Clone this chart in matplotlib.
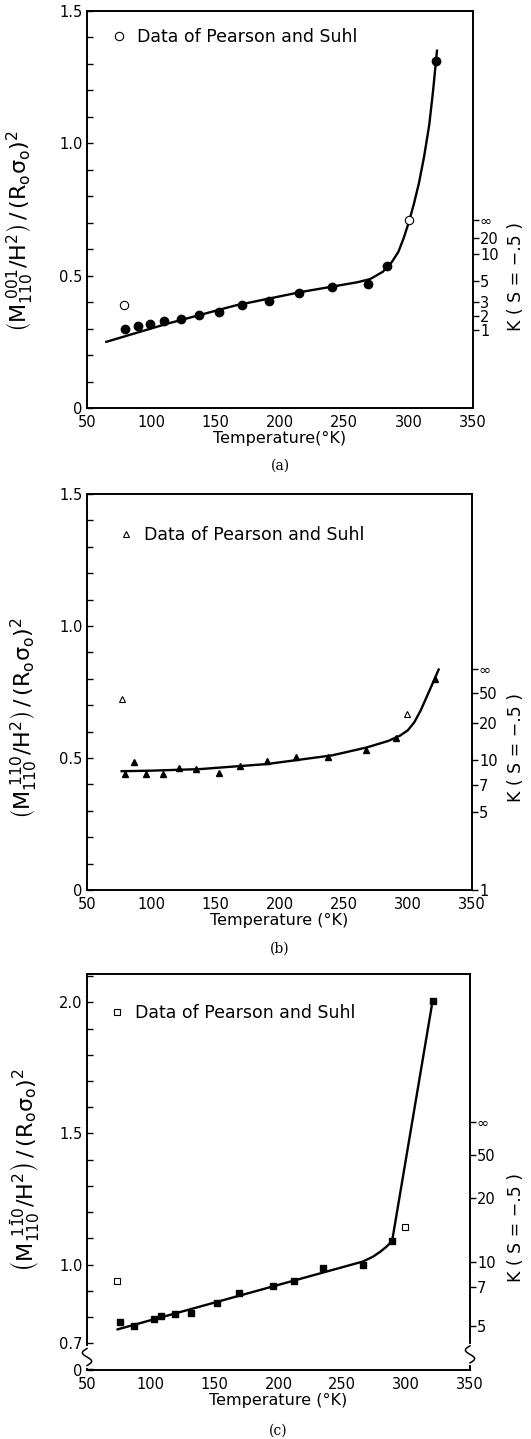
import matplotlib.pyplot as plt
import numpy as np

plt.rcParams['font.family'] = ['DejaVu Sans']
plt.rcParams['mathtext.fontset'] = 'dejavusans'
plt.rcParams['mathtext.default'] = 'regular'

# panel (a): M110 001
temp_a = [79.6, 89.4, 99, 110, 123, 136.9, 152.4, 170.3, 191.3, 214.6, 240.3, 268.3, 283, 321.4]
val_a = [0.299, 0.308, 0.318, 0.327, 0.337, 0.353, 0.362, 0.39, 0.406, 0.434, 0.457, 0.469, 0.536, 1.311]
ps_temp_a = [78.5, 300]
ps_val_a = [0.391, 0.711]
curve_temp_a = [65, 112, 165, 216, 260, 270, 280, 287, 292, 296, 300, 304, 308, 312, 316, 319, 322]
curve_val_a = [0.25, 0.318, 0.387, 0.438, 0.475, 0.487, 0.515, 0.552, 0.59, 0.64, 0.70, 0.77, 0.85, 0.95, 1.07, 1.2, 1.35]
k_pos_a = [0.295, 0.347, 0.400, 0.480, 0.582, 0.642, 0.710]
k_lab_a = ['1', '2', '3', '5', '10', '20', '∞']

# panel (b): M110 110
temp_b = [79.4, 87, 96, 109, 122, 135, 152.6, 169.5, 190, 213, 238, 267.7, 290.5, 321]
val_b = [0.44, 0.484, 0.44, 0.44, 0.463, 0.458, 0.445, 0.469, 0.49, 0.503, 0.503, 0.53, 0.575, 0.80]
ps_temp_b = [77, 299]
ps_val_b = [0.722, 0.667]
curve_temp_b = [77, 100, 138, 190, 241, 268, 285, 294, 300, 305, 310, 315, 320, 324]
curve_val_b = [0.45, 0.452, 0.458, 0.477, 0.51, 0.54, 0.565, 0.585, 0.605, 0.635, 0.68, 0.735, 0.79, 0.835]
k_pos_b = [0.0, 0.297, 0.398, 0.492, 0.631, 0.748, 0.837]
k_lab_b = ['1', '5', '7', '10', '20', '50', '∞']

# panel (c): M110 1-10
temp_c = [76.1, 86.8, 102.3, 108.3, 118.7, 131.8, 151.9, 169.2, 195.8, 212, 234.5, 266.4, 289.1, 321.2]
val_c = [0.782, 0.766, 0.791, 0.804, 0.812, 0.817, 0.855, 0.893, 0.919, 0.938, 0.986, 0.997, 1.088, 2.006]
ps_temp_c = [73.5, 299]
ps_val_c = [0.939, 1.142]
curve_temp_c = [74, 266, 274, 280, 285, 289, 320]
curve_val_c = [0.753, 1.0115, 1.03, 1.05, 1.07, 1.09, 1.985]
k_pos_c = [0.766, 0.916, 1.009, 1.253, 1.419, 1.542]
k_lab_c = ['5', '7', '10', '20', '50', '∞']

W, H = 531., 1439.


def rect(left, right, top, bottom):
    return [left / W, 1 - bottom / H, (right - left) / W, (bottom - top) / H]


def squiggle(ax, xpos, y0, y1):
    # axis break mark drawn over the spine
    tr = ax.get_yaxis_transform()
    ys = np.linspace(y0, y1, 40)
    xs = xpos + 0.012 * np.sin(np.linspace(0, 2 * np.pi, 40))
    ax.plot([xpos, xpos], [y0, y1], color='white', lw=3, transform=tr,
            clip_on=False, zorder=5)
    ax.plot(xs, ys, color='black', lw=1.1, transform=tr, clip_on=False, zorder=6)


def panel(fig, r, temps, vals, marker, ps_t, ps_v, ct, cv, ylim, yticks, ylabels,
          kpos, klab, ylabel, ylab_pos, klab_y, leg_xy, xlabel, letter, letter_y, msize):
    ax = fig.add_axes(r)
    ax.plot(ct, cv, color='black', lw=1.7, zorder=3)
    ax.plot(temps, vals, linestyle='none', marker=marker, color='black',
            markersize=msize, zorder=4)
    ax.plot(ps_t, ps_v, linestyle='none', marker=marker, markerfacecolor='white',
            markeredgecolor='black', markeredgewidth=0.8, markersize=msize,
            label='Data of Pearson and Suhl', zorder=4)
    ax.set_xlim(50, 350)
    ax.set_ylim(*ylim)
    ax.set_xticks([50, 100, 150, 200, 250, 300, 350])
    ax.set_xticks([100, 150, 200, 250, 300], minor=True)
    ax.tick_params(axis='x', which='major', length=0, labelsize=10.5, pad=5)
    ax.tick_params(axis='x', which='minor', direction='in', length=4, width=1,
                   top=True, bottom=True)
    ax.set_yticks(yticks, ylabels)
    ax.yaxis.set_minor_locator(plt.MultipleLocator(0.1))
    ax.tick_params(axis='y', which='both', direction='in', length=4, width=1,
                   labelsize=10.5, pad=3)
    for s in ax.spines.values():
        s.set_linewidth(1.4)
    ax.set_ylabel(ylabel, fontsize=16, va='center', ha='center')
    ax.yaxis.set_label_coords(*ylab_pos)
    ax.set_xlabel(xlabel, fontsize=11.5, labelpad=1)
    ax.text(0.5, letter_y, letter, transform=ax.transAxes, ha='center', va='center',
            fontsize=10, family='DejaVu Serif')
    ax.legend(frameon=False, loc='center left', bbox_to_anchor=leg_xy,
              handlelength=0.6, handletextpad=0.7, borderpad=0, borderaxespad=0,
              fontsize=12.5)

    ax2 = ax.twinx()
    ax2.set_ylim(*ylim)
    ax2.set_yticks(kpos, klab)
    ax2.tick_params(axis='y', direction='out', length=4, width=1, labelsize=10.5, pad=1)
    ax2.set_ylabel('K ( S = \u2212.5 )', fontsize=12.5, rotation=90, va='center', ha='center')
    ax2.yaxis.set_label_coords(klab_x(r), klab_y)
    for s in ax2.spines.values():
        s.set_visible(False)
    return ax


def klab_x(r):
    # horizontal centre of the right label, about x = 516 px
    return (516 / W - r[0]) / r[2]


fig = plt.figure(figsize=(W / 100, H / 100), dpi=100)

ylab_a = r'$\left(M_{110}^{\ 001}/H^{2}\right)\,/\,\left(R_{o}\sigma_{o}\right)^{2}$'
ylab_b = r'$\left(M_{110}^{\ 110}/H^{2}\right)\,/\,\left(R_{o}\sigma_{o}\right)^{2}$'
ylab_c = r'$\left(M_{110}^{\ 1\bar{1}0}/H^{2}\right)\,/\,\left(R_{o}\sigma_{o}\right)^{2}$'

panel(fig, rect(87, 473, 11, 408), temp_a, val_a, 'o', ps_temp_a, ps_val_a,
      curve_temp_a, curve_val_a, (0, 1.5), [0, 0.5, 1.0, 1.5], ['0', '0.5', '1.0', '1.5'],
      k_pos_a, k_lab_a, ylab_a, ((20 - 87) / 386, 0.445), 0.33, ((114 - 87) / 386, (408 - 37) / 397),
      'Temperature(\u00b0K)', '(a)', -0.145, 6)

panel(fig, rect(87, 472, 494, 890), temp_b, val_b, '^', ps_temp_b, ps_val_b,
      curve_temp_b, curve_val_b, (0, 1.5), [0, 0.5, 1.0, 1.5], ['0', '0.5', '1.0', '1.5'],
      k_pos_b, k_lab_b, ylab_b, ((24 - 87) / 385, 0.434), 0.36, ((121 - 87) / 385, (890 - 535) / 396),
      'Temperature (\u00b0K)', '(b)', -0.147, 5)

axc = panel(fig, rect(87, 470, 974, 1370), temp_c, val_c, 's', ps_temp_c, ps_val_c,
            curve_temp_c, curve_val_c, (0.598, 2.108), [0.598, 0.7, 1.0, 1.5, 2.0],
            ['0', '0.7', '1.0', '1.5', '2.0'],
            k_pos_c, k_lab_c, ylab_c, ((24 - 87) / 383, 0.505), 0.36, ((112 - 87) / 383, (1370 - 1013) / 396),
            'Temperature (\u00b0K)', '(c)', -0.152, 5)
squiggle(axc, 0.0, 0.615, 0.68)
squiggle(axc, 1.0, 0.625, 0.69)

fig.savefig('out.png', dpi=100)
